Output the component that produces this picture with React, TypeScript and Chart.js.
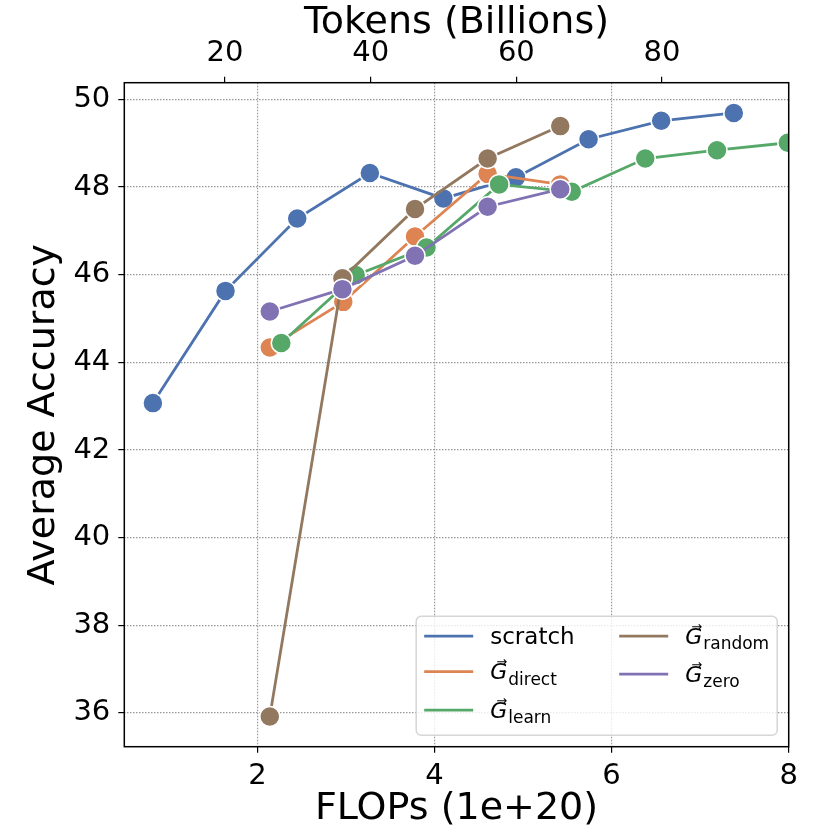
import React, { useEffect, useRef } from 'react';
import { Chart, registerables } from 'chart.js';

Chart.register(...registerables);

// FLOPs (1e+20) and average accuracy
const FLOPS_SCRATCH = [0.82, 1.64, 2.45, 3.27, 4.1, 4.92, 5.74, 6.56, 7.38];
const ACC_SCRATCH = [43.07, 45.63, 47.28, 48.32, 47.74, 48.22, 49.09, 49.51, 49.69];
const FLOPS_DIRECT = [2.14, 2.97, 3.78, 4.6, 5.42];
const ACC_DIRECT = [44.34, 45.38, 46.87, 48.3, 48.06];
const FLOPS_LEARN = [2.27, 3.11, 3.91, 4.73, 5.55, 6.38, 7.19, 7.99];
const ACC_LEARN = [44.44, 45.99, 46.62, 48.06, 47.89, 48.65, 48.84, 49.01];
const FLOPS_RANDOM = [2.14, 2.96, 3.78, 4.6, 5.42];
const ACC_RANDOM = [35.92, 45.92, 47.5, 48.65, 49.39];
const FLOPS_ZERO = [2.14, 2.96, 3.78, 4.6, 5.42];
const ACC_ZERO = [45.16, 45.67, 46.43, 47.55, 47.95];

const X_TICKS = [2, 4, 6, 8];
const TOKEN_TICKS = [20, 40, 60, 80];
const Y_TICKS = [36, 38, 40, 42, 44, 46, 48, 50];

const SERIES = [
  { name: 'scratch', sub: '', color: '#4C72B0', x: FLOPS_SCRATCH, y: ACC_SCRATCH },
  { name: 'G', sub: 'direct', color: '#DD8452', x: FLOPS_DIRECT, y: ACC_DIRECT },
  { name: 'G', sub: 'learn', color: '#55A868', x: FLOPS_LEARN, y: ACC_LEARN },
  { name: 'G', sub: 'random', color: '#937860', x: FLOPS_RANDOM, y: ACC_RANDOM },
  { name: 'G', sub: 'zero', color: '#8172B3', x: FLOPS_ZERO, y: ACC_ZERO },
];

const FONT = 'DejaVu Sans';

const gridStyle = {
  color: '#999999',
  lineWidth: 1.2,
  drawTicks: true,
  tickLength: 6,
  tickColor: '#000',
  tickWidth: 1.2,
};

const drawEntry = (ctx: CanvasRenderingContext2D, x: number, y: number, s: typeof SERIES[number]) => {
  ctx.strokeStyle = s.color;
  ctx.lineWidth = 2.8;
  ctx.beginPath();
  ctx.moveTo(x, y);
  ctx.lineTo(x + 49, y);
  ctx.stroke();
  ctx.fillStyle = '#000';
  ctx.textBaseline = 'alphabetic';
  ctx.textAlign = 'left';
  const tx = x + 66;
  if (!s.sub) {
    ctx.font = `23px ${FONT}`;
    ctx.fillText(s.name, tx, y + 8);
    return;
  }
  ctx.font = `italic 22px ${FONT}`;
  ctx.fillText(s.name, tx, y + 7.5);
  const gw = ctx.measureText(s.name).width;
  ctx.font = `13px ${FONT}`;
  ctx.fillText('\u2192', tx + 6, y - 5.5);
  ctx.font = `17px ${FONT}`;
  ctx.fillText(s.sub, tx + gw + 1, y + 13);
};

const framePlugin = {
  id: 'frameAndLegend',
  afterDraw(chart: Chart) {
    const { ctx, chartArea } = chart;
    ctx.save();
    ctx.strokeStyle = '#000';
    ctx.lineWidth = 1.5;
    ctx.strokeRect(chartArea.left, chartArea.top, chartArea.right - chartArea.left, chartArea.bottom - chartArea.top);

    const w = 361;
    const h = 119;
    const x0 = chartArea.right - 11.5 - w;
    const y0 = chartArea.bottom - 11.5 - h;
    ctx.beginPath();
    ctx.roundRect(x0, y0, w, h, 5);
    ctx.fillStyle = 'rgba(255,255,255,0.8)';
    ctx.fill();
    ctx.strokeStyle = '#d6d6d6';
    ctx.lineWidth = 1.5;
    ctx.stroke();

    const col1 = [20, 55.5, 94];
    const col2 = [20, 58];
    SERIES.slice(0, 3).forEach((s, i) => drawEntry(ctx, x0 + 8, y0 + col1[i], s));
    SERIES.slice(3).forEach((s, i) => drawEntry(ctx, x0 + 203, y0 + col2[i], s));
    ctx.restore();
  },
};

const App: React.FC = () => {
  const canvasRef = useRef<HTMLCanvasElement | null>(null);
  const chartRef = useRef<Chart | null>(null);

  useEffect(() => {
    if (!canvasRef.current) return;
    if (chartRef.current) chartRef.current.destroy();

    chartRef.current = new Chart(canvasRef.current, {
      type: 'line',
      data: {
        datasets: SERIES.map((s, i) => ({
          label: s.sub ? `${s.name}_${s.sub}` : s.name,
          data: s.x.map((v, j) => ({ x: v, y: s.y[j] })),
          borderColor: s.color,
          backgroundColor: s.color,
          borderWidth: 2.8,
          pointRadius: 10,
          pointHoverRadius: 10,
          pointBackgroundColor: s.color,
          pointBorderColor: '#fff',
          pointBorderWidth: 1.5,
          tension: 0,
          order: SERIES.length - i,
          xAxisID: 'x',
          yAxisID: 'y',
        })),
      },
      options: {
        responsive: false,
        animation: false,
        layout: { padding: { left: 0, right: 41.3, top: 0, bottom: 0 } },
        plugins: {
          legend: { display: false },
          tooltip: { enabled: false },
        },
        scales: {
          x: {
            type: 'linear',
            position: 'bottom',
            min: 0.497,
            max: 8,
            afterBuildTicks: (scale: any) => {
              scale.ticks = X_TICKS.map((v) => ({ value: v }));
            },
            afterFit: (scale: any) => {
              scale.height = 83.3;
            },
            ticks: { font: { family: FONT, size: 29 }, color: '#000', padding: 6 },
            grid: gridStyle,
            border: { display: false, dash: [1.5, 1.5] },
            title: {
              display: true,
              text: 'FLOPs (1e+20)',
              font: { family: FONT, size: 38 },
              color: '#000',
              padding: { top: 0, bottom: -2 },
            },
          },
          x2: {
            type: 'linear',
            position: 'top',
            min: 6.17,
            max: 97.4,
            afterBuildTicks: (scale: any) => {
              scale.ticks = TOKEN_TICKS.map((v) => ({ value: v }));
            },
            afterFit: (scale: any) => {
              scale.height = 82.7;
            },
            ticks: { font: { family: FONT, size: 29 }, color: '#000', padding: 6 },
            grid: { ...gridStyle, drawOnChartArea: false },
            border: { display: false },
            title: {
              display: true,
              text: 'Tokens (Billions)',
              font: { family: FONT, size: 38 },
              color: '#000',
              padding: { top: 0, bottom: 0 },
            },
          },
          y: {
            type: 'linear',
            min: 35.23,
            max: 50.38,
            afterBuildTicks: (scale: any) => {
              scale.ticks = Y_TICKS.map((v) => ({ value: v }));
            },
            afterFit: (scale: any) => {
              scale.width = 124.3;
            },
            ticks: { font: { family: FONT, size: 29 }, color: '#000', padding: 8 },
            grid: gridStyle,
            border: { display: false, dash: [1.5, 1.5] },
            title: {
              display: true,
              text: 'Average Accuracy',
              font: { family: FONT, size: 38 },
              color: '#000',
              padding: { top: 21, bottom: 0 },
            },
          },
        },
      },
      plugins: [framePlugin],
    });

    return () => {
      if (chartRef.current) {
        chartRef.current.destroy();
        chartRef.current = null;
      }
    };
  }, []);

  return (
    <div style={{ position: 'absolute', left: 0, top: 0, width: 830, height: 830, background: '#fff' }}>
      <canvas ref={canvasRef} width={830} height={830} />
    </div>
  );
};

export default App;
